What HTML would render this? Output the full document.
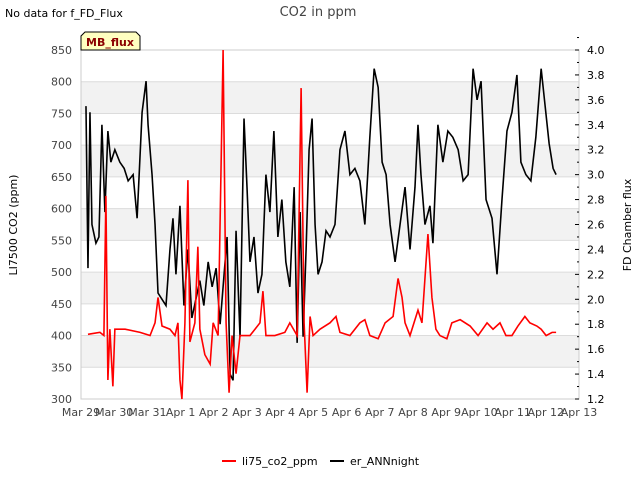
<!DOCTYPE html>
<html><head><meta charset="utf-8"><style>
body{margin:0;background:#fff;font-family:"DejaVu Sans","Liberation Sans",sans-serif;}
svg text{font-family:"DejaVu Sans","Liberation Sans",sans-serif;}
</style></head><body>
<svg id="chart" width="640" height="480" xmlns="http://www.w3.org/2000/svg">
<text x="5" y="17" font-size="11" fill="#000">No data for f_FD_Flux</text>
<text x="318" y="16" font-size="13" fill="#444" text-anchor="middle">CO2 in ppm</text>
<text transform="translate(17,225) rotate(-90)" font-size="11" text-anchor="middle">LI7500 CO2 (ppm)</text>
<text transform="translate(631,225) rotate(-90)" font-size="11" text-anchor="middle">FD Chamber flux</text>
<g id="bands"></g><g id="grid"></g><g id="axes"></g><g id="series"></g>
<g>
<path d="M81,50 L81,36 L85,32 L136,32 L140,36 L140,50 Z" fill="#ffffc0" stroke="#000" stroke-width="1"/>
<text x="110" y="46" font-size="11" font-weight="bold" fill="#8b0000" text-anchor="middle">MB_flux</text></g>
<g>
<line x1="222" y1="461" x2="236" y2="461" stroke="#f00" stroke-width="2"/>
<text x="242" y="465" font-size="11">li75_co2_ppm</text>
<line x1="330" y1="461" x2="344" y2="461" stroke="#000" stroke-width="2"/>
<text x="350" y="465" font-size="11">er_ANNnight</text>
</g>
</svg>
<script>
const xTickLabels=["Mar 29","Mar 30","Mar 31","Apr 1","Apr 2","Apr 3","Apr 4","Apr 5","Apr 6","Apr 7","Apr 8","Apr 9","Apr 10","Apr 11","Apr 12","Apr 13"];
const leftTicks=[300,350,400,450,500,550,600,650,700,750,800,850];
const rightTicks=[1.2,1.4,1.6,1.8,2.0,2.2,2.4,2.6,2.8,3.0,3.2,3.4,3.6,3.8,4.0];
const redDays=[0.21,0.57,0.69,0.75,0.81,0.87,0.96,1.02,1.33,1.78,2.08,2.23,2.32,2.44,2.68,2.83,2.92,2.98,3.04,3.13,3.22,3.28,3.43,3.52,3.58,3.73,3.89,3.98,4.13,4.28,4.37,4.46,4.55,4.67,4.79,5.09,5.24,5.39,5.48,5.57,5.84,6.14,6.29,6.51,6.63,6.72,6.81,6.9,6.99,7.2,7.5,7.68,7.8,8.1,8.4,8.55,8.7,8.95,9.16,9.4,9.55,9.67,9.76,9.91,10.15,10.27,10.45,10.57,10.69,10.81,11.02,11.17,11.42,11.72,11.96,12.23,12.41,12.62,12.8,12.98,13.16,13.37,13.52,13.73,13.86,14.01,14.19,14.31];
const redValues=[402,405,400,620,330,410,320,410,410,405,400,420,460,415,410,400,420,330,300,420,645,390,420,540,410,370,355,420,400,850,420,310,400,340,400,400,410,420,470,400,400,405,420,400,790,420,310,430,400,410,420,430,405,400,420,425,400,395,420,430,490,460,420,400,440,420,560,460,410,400,395,420,425,415,400,420,410,420,400,400,415,430,420,415,410,400,405,405];
const blackDays=[0.15,0.21,0.27,0.33,0.45,0.54,0.63,0.72,0.81,0.9,1.02,1.17,1.3,1.42,1.57,1.69,1.84,1.96,2.02,2.14,2.23,2.32,2.44,2.56,2.68,2.77,2.86,2.98,3.1,3.22,3.34,3.46,3.58,3.7,3.83,3.95,4.07,4.19,4.31,4.4,4.49,4.58,4.67,4.79,4.91,5.0,5.09,5.21,5.33,5.45,5.57,5.69,5.81,5.93,6.05,6.17,6.29,6.42,6.51,6.6,6.69,6.78,6.87,6.96,7.05,7.14,7.26,7.38,7.5,7.65,7.8,7.95,8.1,8.25,8.4,8.55,8.7,8.83,8.95,9.07,9.19,9.31,9.46,9.61,9.76,9.91,10.06,10.15,10.24,10.36,10.51,10.6,10.75,10.9,11.05,11.2,11.36,11.51,11.66,11.81,11.93,12.05,12.2,12.38,12.53,12.68,12.83,12.98,13.13,13.25,13.4,13.55,13.7,13.86,13.98,14.1,14.22,14.31];
const blackValues=[3.55,2.25,3.5,2.6,2.45,2.5,3.4,2.7,3.35,3.1,3.2,3.1,3.05,2.95,3.0,2.65,3.5,3.75,3.4,3.0,2.6,2.05,2.0,1.95,2.4,2.65,2.2,2.75,1.95,2.4,1.85,2.0,2.15,1.95,2.3,2.1,2.25,1.8,2.2,2.5,1.4,1.35,2.55,1.7,3.45,2.9,2.3,2.5,2.05,2.2,3.0,2.7,3.35,2.5,2.8,2.3,2.1,2.9,1.65,2.7,1.7,2.4,3.2,3.45,2.6,2.2,2.3,2.55,2.5,2.6,3.2,3.35,3.0,3.05,2.95,2.6,3.3,3.85,3.7,3.1,3.0,2.6,2.3,2.6,2.9,2.4,2.9,3.4,3.0,2.6,2.75,2.45,3.4,3.1,3.35,3.3,3.2,2.95,3.0,3.85,3.6,3.75,2.8,2.65,2.2,2.8,3.35,3.5,3.8,3.1,3.0,2.95,3.3,3.85,3.55,3.25,3.05,3.0];

const NS="http://www.w3.org/2000/svg";
const X0=81,X1=579,YT=50,YB=399;
const xs=d=>X0+(X1-X0)*d/15;
const yl=v=>YB-(YB-YT)*(v-300)/550;
const yr=v=>YB-(YB-YT)*(v-1.2)/2.8;
function mk(tag,attrs,parent){const e=document.createElementNS(NS,tag);for(const k in attrs)e.setAttribute(k,attrs[k]);document.getElementById(parent).appendChild(e);return e;}
// bands
for(let v=350;v<850;v+=100){const b=mk('rect',{x:X0,y:yl(v+50),width:X1-X0,height:yl(v)-yl(v+50),fill:'#f2f2f2'},'bands');

}
leftTicks.forEach(v=>{const l=mk('line',{x1:X0,x2:X1,y1:yl(v),y2:yl(v),stroke:'#dcdcdc','stroke-width':1},'grid');


const t=mk('text',{x:X0-9,y:yl(v)+4,'font-size':11,fill:'#444','text-anchor':'end'},'axes');t.textContent=v;

});
const fr=mk('rect',{x:X0,y:YT,width:X1-X0,height:YB-YT,fill:'none',stroke:'#ccc'},'axes');


rightTicks.forEach(v=>{const l=mk('line',{x1:X1-4,x2:X1,y1:yr(v),y2:yr(v),stroke:'#000'},'axes');


const m=mk('line',{x1:X1-2,x2:X1,y1:yr(v+0.1),y2:yr(v+0.1),stroke:'#000'},'axes');


const t=mk('text',{x:X1+8,y:yr(v)+4,'font-size':11,fill:'#000'},'axes');t.textContent=v.toFixed(1);

});
xTickLabels.forEach((s,i)=>{const t=mk('text',{x:xs(i),y:YB+17,'font-size':11,fill:'#444','text-anchor':'middle'},'axes');t.textContent=s;

});
const bp=mk('polyline',{points:blackDays.map((d,i)=>xs(d)+','+yr(blackValues[i])).join(' '),fill:'none',stroke:'#000','stroke-width':1.6},'series');


const rp=mk('polyline',{points:redDays.map((d,i)=>xs(d)+','+yl(redValues[i])).join(' '),fill:'none',stroke:'#f00','stroke-width':1.6},'series');


</script>
</body></html>
